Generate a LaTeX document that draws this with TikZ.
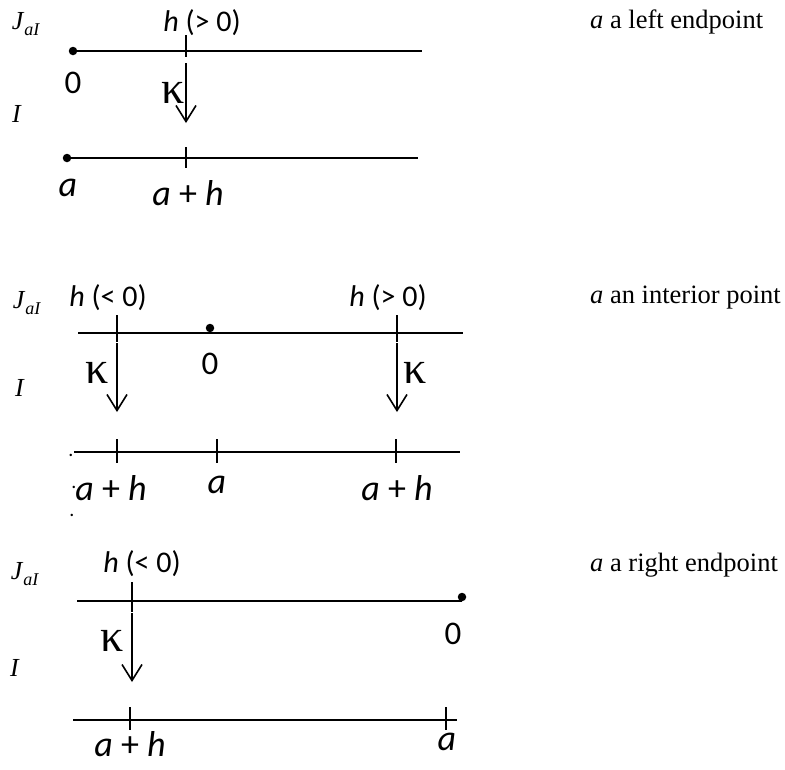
\documentclass[tikz,border=0pt]{standalone}
\usepackage{fontspec}
\setmainfont{Liberation Serif}
\setsansfont{Carlito}
\usetikzlibrary{arrows.meta,positioning}

\begin{document}
\begin{tikzpicture}[
    x=1pt, y=-1pt,
    axis/.style={line width=1.6pt},
    tick/.style={line width=1.6pt},
    map/.style={line width=1.6pt, -{Straight Barb[length=16pt,width=20pt,line width=1.6pt]}},
    endpt/.style={circle, fill, inner sep=0pt, minimum size=8.5pt},
    val/.style={font=\fontsize{36}{38}\selectfont\sffamily, inner sep=0pt},
    zero/.style={font=\fontsize{33}{35}\selectfont\sffamily, inner sep=0pt},
    hval/.style={font=\fontsize{30}{32}\selectfont\sffamily, inner sep=0pt},
    space/.style={font=\fontsize{26}{28}\selectfont\rmfamily, inner sep=0pt},
    kap/.style={font=\fontsize{46}{48}\selectfont\rmfamily, inner sep=0pt},
    note/.style={font=\fontsize{26.5}{28}\selectfont\rmfamily, anchor=west, inner sep=0pt},
    stray/.style={font=\fontsize{20}{20}\selectfont\sffamily, inner sep=0pt}
]
\useasboundingbox (0,0) rectangle (785,769);
\newcommand{\Jal}{\textit{J}\raisebox{-0.22em}{\fontsize{18}{18}\selectfont\textit{aI}}}

% =========================================================
% TOP: a a left endpoint
% =========================================================
\node[space] (l_j) at (26,24)  {\Jal};
\node[space] (l_i) at (17,114) {\textit{I}};
\node[note]  (l_n) at (590,22) {\textit{a} a left endpoint};

\node[endpt] (l_top0) at (73,51) {};
\coordinate (l_topend) at (422,51);
\draw[axis] (l_top0.center) -- (l_topend);
\coordinate (l_ht) at (186,35);
\coordinate (l_hb) at (186,57);
\draw[tick] (l_ht) -- (l_hb);
\node[hval] (l_h) at (202,23) {\textit{h} (> 0)};
\node[zero] (l_0) at (73,83)  {0};

\coordinate (l_k1) at (186,63);
\coordinate (l_k2) at (186,123);
\draw[map] (l_k1) -- (l_k2);
\node[kap] (l_k) at (173,93) {κ};

\node[endpt] (l_bota) at (67,158) {};
\coordinate (l_botend) at (418,158);
\draw[axis] (l_bota.center) -- (l_botend);
\coordinate (l_at) at (186,147);
\coordinate (l_ab) at (186,168);
\draw[tick] (l_at) -- (l_ab);
\node[val] (l_a)  at (68,188)  {\textit{a}};
\node[val] (l_ah) at (188,193) {\textit{a} + \textit{h}};

% =========================================================
% MIDDLE: a an interior point
% =========================================================
\node[space] (m_j) at (27,303) {\Jal};
\node[space] (m_i) at (20,388) {\textit{I}};
\node[note]  (m_n) at (590,298) {\textit{a} an interior point};

\coordinate (m_topbeg) at (78,333);
\coordinate (m_topend) at (463,333);
\draw[axis] (m_topbeg) -- (m_topend);
\node[endpt] (m_top0) at (210,328) {};
\coordinate (m_lt) at (117,315);
\coordinate (m_lb) at (117,342);
\draw[tick] (m_lt) -- (m_lb);
\coordinate (m_rt) at (397,315);
\coordinate (m_rb) at (397,342);
\draw[tick] (m_rt) -- (m_rb);
\node[hval] (m_hl) at (108,298) {\textit{h} (< 0)};
\node[hval] (m_hr) at (388,298) {\textit{h} (> 0)};
\node[zero] (m_0)  at (210,364) {0};

\coordinate (m_lk1) at (117,343);
\coordinate (m_lk2) at (117,412);
\draw[map] (m_lk1) -- (m_lk2);
\node[kap] (m_kl) at (97,373) {κ};
\coordinate (m_rk1) at (397,343);
\coordinate (m_rk2) at (397,412);
\draw[map] (m_rk1) -- (m_rk2);
\node[kap] (m_kr) at (415,373) {κ};

\coordinate (m_botbeg) at (74,452);
\coordinate (m_botend) at (460,452);
\draw[axis] (m_botbeg) -- (m_botend);
\coordinate (m_t1t) at (117,439);
\coordinate (m_t1b) at (117,463);
\draw[tick] (m_t1t) -- (m_t1b);
\coordinate (m_t2t) at (217,439);
\coordinate (m_t2b) at (217,463);
\draw[tick] (m_t2t) -- (m_t2b);
\coordinate (m_t3t) at (396,439);
\coordinate (m_t3b) at (396,463);
\draw[tick] (m_t3t) -- (m_t3b);
\node[val] (m_ahl) at (111,488) {\textit{a} + \textit{h}};
\node[val] (m_a)   at (217,485) {\textit{a}};
\node[val] (m_ahr) at (397,488) {\textit{a} + \textit{h}};
\node[stray] (m_d1) at (71,455) {.};
\node[stray] (m_d2) at (74,487) {.};
\node[stray] (m_d3) at (72,515) {.};

% =========================================================
% BOTTOM: a a right endpoint
% =========================================================
\node[space] (r_j) at (25,574) {\Jal};
\node[space] (r_i) at (15,668) {\textit{I}};
\node[note]  (r_n) at (590,565) {\textit{a} a right endpoint};

\coordinate (r_topbeg) at (77,601);
\coordinate (r_topend) at (462,601);
\draw[axis] (r_topbeg) -- (r_topend);
\node[endpt] (r_top0) at (462,597) {};
\coordinate (r_ht) at (132,582);
\coordinate (r_hb) at (132,612);
\draw[tick] (r_ht) -- (r_hb);
\node[hval] (r_h) at (142,564) {\textit{h} (< 0)};
\node[zero] (r_0) at (453,634) {0};

\coordinate (r_k1) at (132,613);
\coordinate (r_k2) at (132,682);
\draw[map] (r_k1) -- (r_k2);
\node[kap] (r_k) at (112,641) {κ};

\coordinate (r_botbeg) at (73,720);
\coordinate (r_botend) at (457,720);
\draw[axis] (r_botbeg) -- (r_botend);
\coordinate (r_t1t) at (130,707);
\coordinate (r_t1b) at (130,730);
\draw[tick] (r_t1t) -- (r_t1b);
\coordinate (r_t2t) at (446,707);
\coordinate (r_t2b) at (446,730);
\draw[tick] (r_t2t) -- (r_t2b);
\node[val] (r_ah) at (130,744) {\textit{a} + \textit{h}};
\node[val] (r_a)  at (447,742) {\textit{a}};

\end{tikzpicture}
\end{document}
